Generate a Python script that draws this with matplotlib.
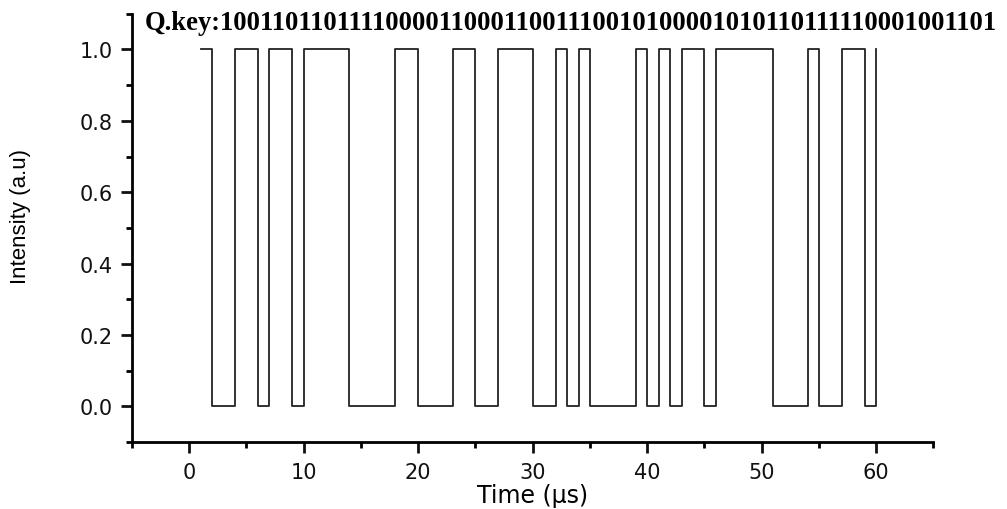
import numpy as np
import matplotlib
matplotlib.use("Agg")
import matplotlib.pyplot as plt
from matplotlib.ticker import MultipleLocator

# bits of the quantum key, one per microsecond starting at t = 1
time_us = np.arange(1, 61)
bits = [1, 0, 0, 1, 1, 0, 1, 1, 0, 1,
        1, 1, 1, 0, 0, 0, 0, 1, 1, 0,
        0, 0, 1, 1, 0, 0, 1, 1, 1, 0,
        0, 1, 0, 1, 0, 0, 0, 0, 1, 0,
        1, 0, 1, 1, 0, 1, 1, 1, 1, 1,
        0, 0, 0, 1, 0, 0, 1, 1, 0, 1]
key_label = "Q.key:" + "".join(str(b) for b in bits)
x_ticks = [0, 10, 20, 30, 40, 50, 60]
y_ticks = [0.0, 0.2, 0.4, 0.6, 0.8, 1.0]

plt.rcParams['font.family'] = ['DejaVu Sans']

fig = plt.figure(figsize=(10.07, 5.10), dpi=100)
ax = fig.add_axes([0.131, 0.131, 0.796, 0.840])

ax.plot(time_us, bits, drawstyle='steps-post', color='#222222', lw=1.3)

ax.set_xlim(-5, 65)
ax.set_ylim(-0.1, 1.1)
ax.set_xticks(x_ticks)
ax.set_yticks(y_ticks)
ax.set_yticklabels([f"{v:.1f}" for v in y_ticks])
ax.xaxis.set_minor_locator(MultipleLocator(5))
ax.yaxis.set_minor_locator(MultipleLocator(0.1))

for s in ['top', 'right']:
    ax.spines[s].set_visible(False)
for s in ['left', 'bottom']:
    ax.spines[s].set_linewidth(2.0)

ax.tick_params(which='major', direction='out', length=8, width=2.0,
               labelsize=15, pad=6, colors='#111111')
ax.tick_params(which='minor', direction='out', length=4, width=2.0)

ax.set_xlabel("Time (μs)", fontsize=17, labelpad=1)
ax.set_ylabel("Intensity (a.u)", fontsize=16,
              family=['Liberation Sans', 'DejaVu Sans'])
ax.yaxis.set_label_coords(-0.126, 0.53)

fig.text(0.144, 0.978, key_label, fontsize=19.2, fontweight='bold',
         family=['Liberation Serif', 'DejaVu Serif'], va='top', ha='left')

fig.savefig("out.png", dpi=100)
